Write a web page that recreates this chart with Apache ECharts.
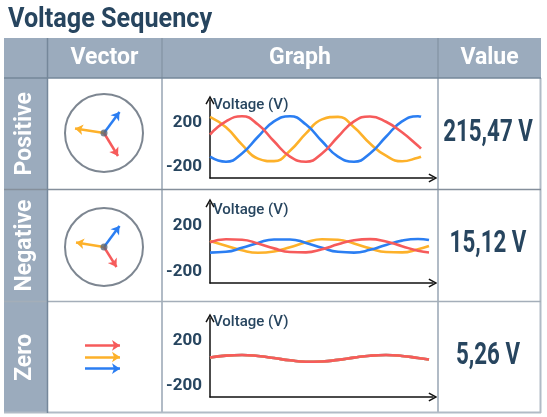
<!DOCTYPE html>
<html>
<head>
<meta charset="utf-8">
<title>Voltage Sequency</title>
<script src="https://cdn.jsdelivr.net/npm/echarts@6/dist/echarts.min.js"></script>
<style>
  html, body { margin: 0; padding: 0; background: #fff; }
  #chart { width: 547px; height: 417px; }
</style>
</head>
<body>
<div id="chart"></div>
<script>
const rowNames = ['Positive', 'Negative', 'Zero']
const rowValues = ['215,47 V', '15,12 V', '5,26 V']
const headers = ['Vector', 'Graph', 'Value']
const yTicks = [-200, 200]

// time samples for the wave plots
const tPos = [0, 16, 32, 48, 64, 80, 96, 112, 128, 144, 160, 176, 192, 208, 211]
const tNeg = [0, 16, 32, 48, 64, 80, 96, 112, 128, 144, 160, 176, 192, 208, 219]
const tZero = [0, 16, 32, 48, 64, 80, 96, 112, 128, 144, 160, 176, 192, 208, 219]

// voltages (V)
const posRed = [90, 208, 254, 180, 30, -108, -154, -80, 70, 208, 252, 205, 110, -10, -36]
const posBlue = [-108, -154, -80, 70, 208, 254, 180, 30, -108, -154, -80, 70, 208, 254, 249]
const posYellow = [249, 155, 0, -126, -149, -55, 100, 226, 249, 155, 10, -100, -150, -118, -109]

const negRed = [56, 83, 79, 46, 3, -29, -32, -5, 38, 74, 84, 63, 22, -18, -33]
const negBlue = [-34, -27, 8, 51, 81, 81, 51, 8, -27, -34, -10, 33, 71, 85, 76]
const negYellow = [67, 27, -14, -35, -24, 13, 56, 83, 79, 46, 3, -29, -32, -5, 24]

const zeroWave = [50, 67, 72, 63, 45, 25, 13, 15, 29, 49, 66, 72, 64, 46, 32]

// phasors [dx, dy] : blue, yellow, red
const posVectors = [[15.5, 21], [-29, 4.5], [14, -23]]
const negVectors = [[15.5, 21], [-28, 4.5], [12.5, -20]]
// zero sequence arrows: start / end, red, yellow, blue
const zeroVectors = [[[-19, 11.6], [16, 11.6]], [[-19, 0], [16, 0]], [[-19, -11.7], [16, -11.7]]]

const RED = '#f65b5b'
const YELLOW = '#fdb12a'
const BLUE = '#2b7ef2'
const NAVY = '#27455f'
const HEAD = '#9babbd'

const chart = echarts.init(document.getElementById('chart'))

const pair = (xs, ys) => xs.map((x, i) => [x, ys[i]])

// plot areas
const graphBoxes = [
  { top: 100, height: 78, gap: -5 },
  { top: 203, height: 80, gap: -7 },
  { top: 318, height: 79, gap: -4 }
]
const vecCenters = [[104, 133], [104, 247], [104, 357]]

const chevron = 'path://M0,9 L5,0 L10,9 L8.6,9.8 L5,3.2 L1.4,9.8 Z'

const grid = []
const xAxis = []
const yAxis = []
graphBoxes.forEach((b, i) => {
  grid.push({ left: 210, width: 223, top: b.top, height: b.height })
  xAxis.push({
    gridIndex: i,
    type: 'value',
    min: 0,
    max: 223,
    axisLine: { onZero: false, symbol: ['none', chevron], symbolSize: [11, 9], lineStyle: { color: '#111', width: 1.5 } },
    axisTick: { show: false },
    axisLabel: { show: false },
    splitLine: { show: false }
  })
  yAxis.push({
    gridIndex: i,
    type: 'value',
    min: -300,
    max: 400,
    interval: 100,
    name: 'Voltage (V)',
    nameLocation: 'end',
    nameGap: b.gap,
    nameTextStyle: {
      align: 'left',
      verticalAlign: 'middle',
      color: NAVY,
      fontFamily: 'Roboto',
      fontWeight: 500,
      fontSize: 15,
      padding: [0, 0, 0, 3]
    },
    axisLine: { onZero: false, symbol: ['none', chevron], symbolSize: [11, 9], lineStyle: { color: '#111', width: 1.5 } },
    axisTick: { show: false },
    splitLine: { show: false },
    axisLabel: {
      color: NAVY,
      fontFamily: 'Roboto',
      fontWeight: 'bold',
      fontSize: 17,
      margin: 8,
      formatter: v => (yTicks.indexOf(v) > -1 ? String(v) : '')
    }
  })
})
vecCenters.forEach((c, i) => {
  grid.push({ left: c[0] - 40, top: c[1] - 40, width: 80, height: 80 })
  xAxis.push({ gridIndex: 3 + i, type: 'value', min: -40, max: 40, show: false })
  yAxis.push({ gridIndex: 3 + i, type: 'value', min: -40, max: 40, show: false })
})

const wave = (idx, name, color, xs, ys) => ({
  name: name,
  type: 'line',
  xAxisIndex: idx,
  yAxisIndex: idx,
  smooth: true,
  symbol: 'none',
  silent: true,
  lineStyle: { color: color, width: 2.6 },
  data: pair(xs, ys)
})

const phasor = (idx, list, colors) => [
  {
    type: 'scatter',
    xAxisIndex: idx,
    yAxisIndex: idx,
    symbolSize: 78,
    silent: true,
    itemStyle: { color: 'rgba(0,0,0,0)', borderColor: '#5d6876', borderWidth: 2 },
    data: [[0, 0]]
  },
  {
    type: 'lines',
    coordinateSystem: 'cartesian2d',
    xAxisIndex: idx,
    yAxisIndex: idx,
    symbol: ['none', 'arrow'],
    symbolSize: 8,
    silent: true,
    lineStyle: { width: 2.5, opacity: 1, curveness: 0 },
    data: list.map((v, k) => ({ coords: [[0, 0], v], lineStyle: { color: colors[k] } }))
  },
  {
    type: 'scatter',
    xAxisIndex: idx,
    yAxisIndex: idx,
    symbolSize: 7,
    silent: true,
    z: 5,
    itemStyle: { color: '#5d6876' },
    data: [[0, 0]]
  }
]

const series = [
  wave(0, 'yellow', YELLOW, tPos, posYellow),
  wave(0, 'blue', BLUE, tPos, posBlue),
  wave(0, 'red', RED, tPos, posRed),
  wave(1, 'yellow', YELLOW, tNeg, negYellow),
  wave(1, 'blue', BLUE, tNeg, negBlue),
  wave(1, 'red', RED, tNeg, negRed),
  wave(2, 'blue', BLUE, tZero, zeroWave),
  wave(2, 'yellow', YELLOW, tZero, zeroWave),
  wave(2, 'red', RED, tZero, zeroWave),
  ...phasor(3, posVectors, [BLUE, YELLOW, RED]),
  ...phasor(4, negVectors, [BLUE, YELLOW, RED]),
  {
    type: 'lines',
    coordinateSystem: 'cartesian2d',
    xAxisIndex: 5,
    yAxisIndex: 5,
    symbol: ['none', 'arrow'],
    symbolSize: 8,
    silent: true,
    lineStyle: { width: 2.5, opacity: 1 },
    data: zeroVectors.map((v, k) => ({ coords: v, lineStyle: { color: [RED, YELLOW, BLUE][k] } }))
  }
]

// table frame
const rowTops = [78, 189.5, 301.5, 413]
const headerX = [104.5, 300, 489.5]
const light = '#b1bbc6'
const dark = '#75879a'
const seg = (x1, y1, x2, y2, color, w) => ({
  type: 'line',
  silent: true,
  z: 1,
  shape: { x1: x1, y1: y1, x2: x2, y2: y2 },
  style: { stroke: color, lineWidth: w }
})

const graphic = [
  { type: 'rect', silent: true, z: 0, shape: { x: 4, y: 38, width: 537, height: 40 }, style: { fill: HEAD } },
  { type: 'rect', silent: true, z: 0, shape: { x: 4, y: 78, width: 43.5, height: 335 }, style: { fill: HEAD } },
  seg(162, 78, 162, 413, light, 2),
  seg(438, 78, 438, 413, light, 2),
  seg(540.5, 78, 540.5, 413, light, 2),
  seg(162, 38, 162, 78, '#8797a9', 1.5),
  seg(438, 38, 438, 78, '#8797a9', 1.5),
  seg(4, 412.5, 541, 412.5, light, 2),
  seg(4, 189.5, 541, 189.5, '#858f9b', 1.5),
  seg(4, 301.5, 541, 301.5, '#a4aeb9', 1.5),
  seg(4, 78, 541, 78, dark, 1.5),
  seg(47.5, 38, 47.5, 413, dark, 1.5),
  {
    type: 'text',
    silent: true,
    x: 8,
    y: 20,
    scaleX: 0.9,
    style: { text: 'Voltage Sequency', fill: NAVY, font: 'bold 28px Roboto', align: 'left', verticalAlign: 'middle' }
  }
]
headers.forEach((h, i) => {
  graphic.push({
    type: 'text',
    silent: true,
    z: 2,
    x: headerX[i],
    y: 58,
    style: { text: h, fill: '#fff', font: 'bold 23px Roboto', align: 'center', verticalAlign: 'middle' }
  })
})
rowNames.forEach((r, i) => {
  const cy = (rowTops[i] + rowTops[i + 1]) / 2
  graphic.push({
    type: 'text',
    silent: true,
    z: 2,
    x: 25.5,
    y: cy,
    rotation: Math.PI / 2,
    style: { text: r, fill: '#fff', font: 'bold 23px Roboto', align: 'center', verticalAlign: 'middle' }
  })
  graphic.push({
    type: 'text',
    silent: true,
    z: 2,
    x: 488,
    y: cy - 1,
    scaleX: 0.72,
    style: { text: rowValues[i], fill: NAVY, font: 'bold 31px Roboto', align: 'center', verticalAlign: 'middle' }
  })
})

chart.setOption({
  animation: false,
  backgroundColor: '#fff',
  grid: grid,
  xAxis: xAxis,
  yAxis: yAxis,
  graphic: graphic,
  series: series
})
</script>
</body>
</html>
